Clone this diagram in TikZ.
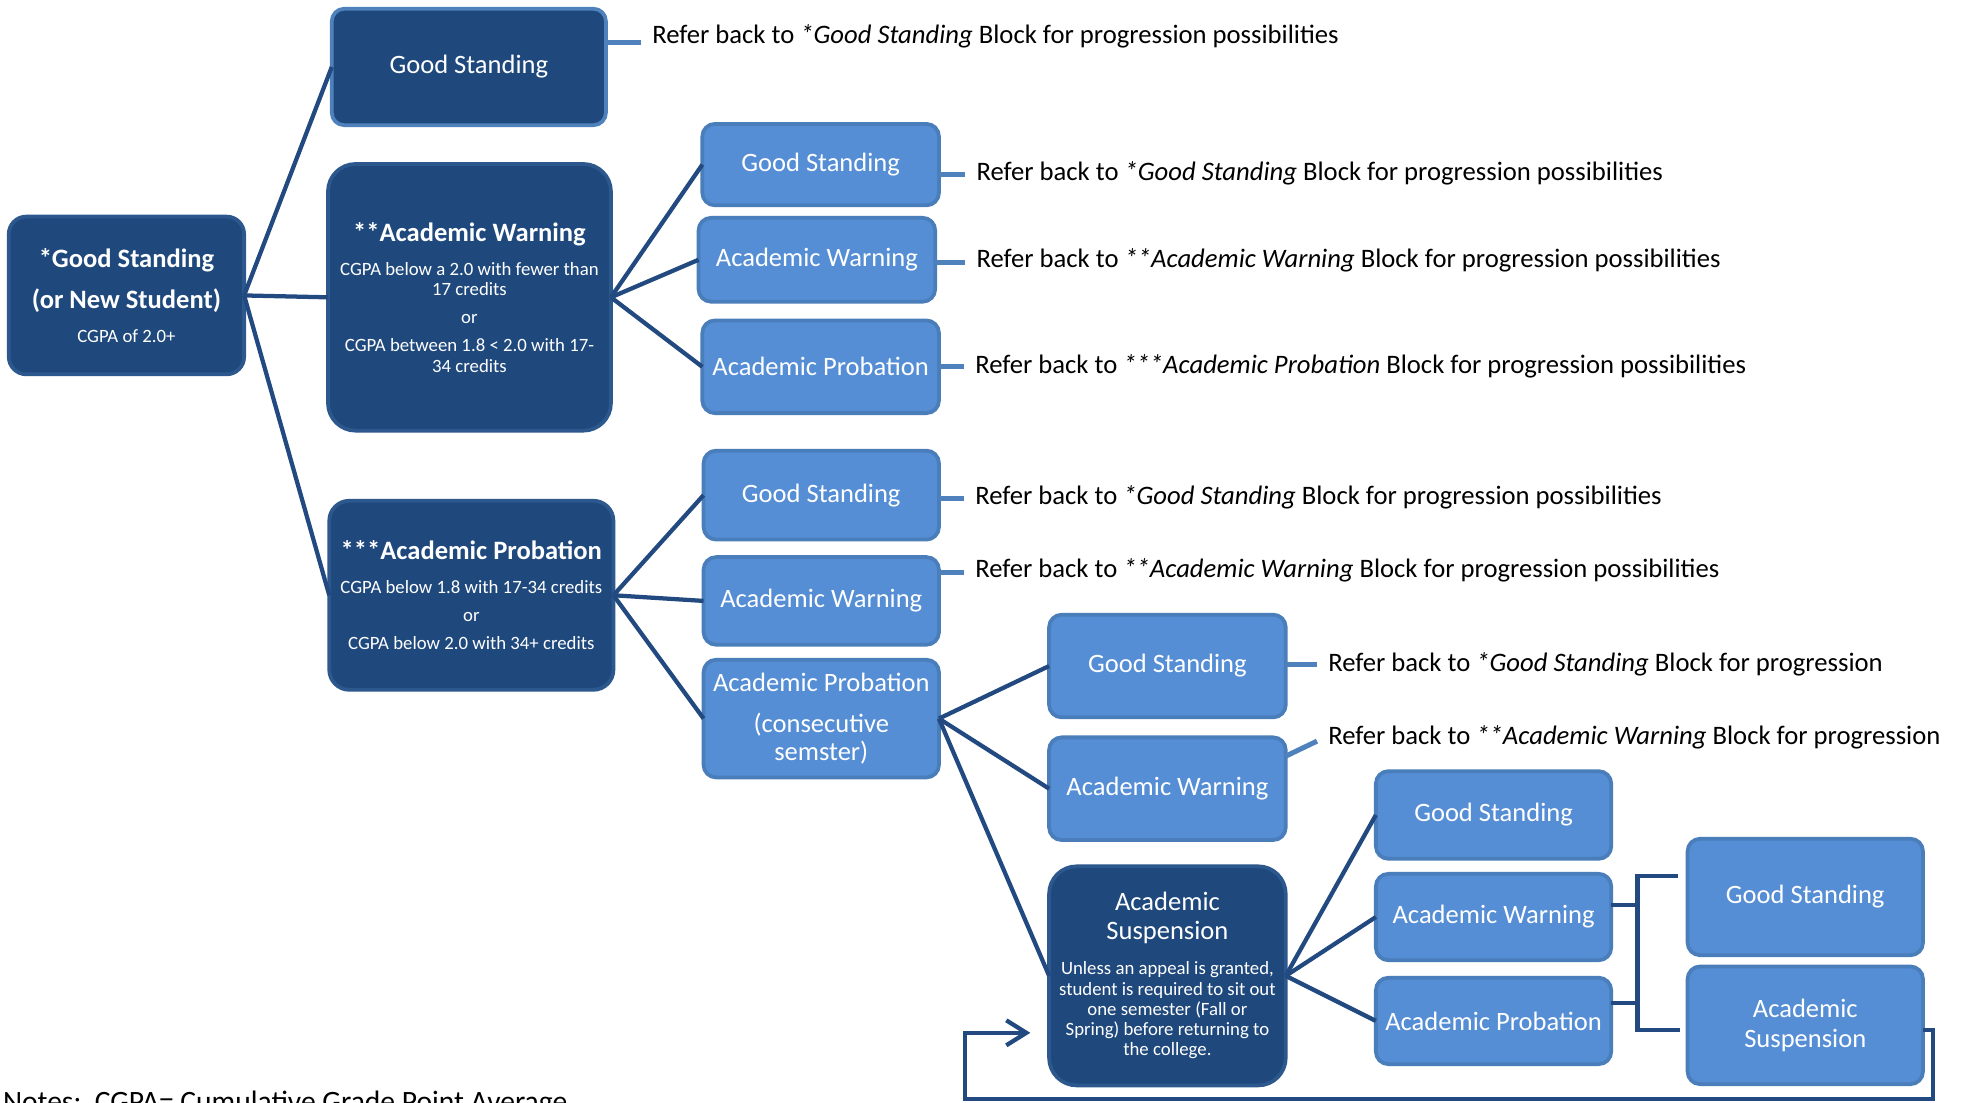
\documentclass[tikz,border=0pt]{standalone}
\usepackage{fontspec}
\setmainfont{Carlito}
\usetikzlibrary{arrows.meta}
\definecolor{dkfill}{RGB}{31,73,125}
\definecolor{dkedge}{RGB}{44,88,142}
\definecolor{ltfill}{RGB}{85,142,213}
\definecolor{ltedge}{RGB}{74,126,187}
\definecolor{conncol}{RGB}{35,74,128}
\definecolor{labcol}{RGB}{79,129,189}
\newcommand{\sm}{\fontsize{7.5}{9}\selectfont}
\tikzset{
  box/.style 2 args={minimum width=#1*0.5pt, minimum height=#2*0.5pt, inner sep=1pt, outer sep=0pt,
    align=center, text=white, font=\fontsize{10.6}{12}\selectfont, line width=1.5pt},
  dk/.style={fill=dkfill, draw=dkedge},
  lt/.style={fill=ltfill, draw=ltedge, rounded corners=5pt},
  conn/.style={draw=conncol, line width=1.7pt},
  lab/.style={draw=labcol, line width=2pt},
  labtext/.style={anchor=base west, inner ysep=0pt, inner xsep=4.5pt, outer sep=0pt,
    font=\fontsize{10.65}{13}\selectfont, text=black},
}
\begin{document}
\begin{tikzpicture}[x=0.5pt,y=-0.5pt]
\useasboundingbox (0,0) rectangle (1568,881);
\fill[white] (0,0) rectangle (1568,881);
\clip (0,0) rectangle (1568,881);

% level 0
\node[box={188}{126}, dk, rounded corners=7pt] (R) at (101,236)
  {\textbf{*Good Standing}\\[4.5pt]\textbf{(or New Student)}\\[1.5pt]{\sm CGPA of 2.0+}};

% level 1
\node[box={219}{93}, fill=dkfill, draw=labcol, rounded corners=5pt] (G1) at (374.5,53.5) {Good Standing};
\node[box={226}{213}, dk, rounded corners=11pt] (W) at (375,237.5)
  {\textbf{**Academic Warning}\\[1.5pt]{\sm CGPA below a 2.0 with fewer than}\\[-3.8pt]{\sm 17 credits}\\[-0.8pt]{\sm or}\\[-0.8pt]{\sm CGPA between 1.8 < 2.0 with 17-}\\[-3.8pt]{\sm 34 credits}};
\node[box={227}{151}, dk, rounded corners=8pt] (P) at (376.5,475.5)
  {\textbf{***Academic Probation}\\[1.5pt]{\sm CGPA below 1.8 with 17-34 credits}\\[-0.8pt]{\sm or}\\[-0.8pt]{\sm CGPA below 2.0 with 34+ credits}};

% level 2
\node[box={189}{65}, lt] (W1) at (655.5,131.5) {Good Standing};
\node[box={189}{67}, lt] (W2) at (652.5,207.5) {Academic Warning};
\node[box={189}{74}, lt] (W3) at (655.5,293) {Academic Probation};
\node[box={188}{71}, lt] (P1) at (656,395.5) {Good Standing};
\node[box={188}{70}, lt] (P2) at (656,480) {Academic Warning};
\node[box={188}{94}, lt] (P3) at (656,574) {Academic Probation\\[4.5pt](consecutive\\[-1pt]semster)};

% level 3
\node[box={189}{82}, lt] (Q1) at (932.5,532) {Good Standing};
\node[box={189}{82}, lt] (Q2) at (932.5,630) {Academic Warning};
\node[box={189}{175}, dk, rounded corners=11pt] (Q3) at (932.5,779.5)
  {Academic\\[-0.5pt]Suspension\\[2pt]{\sm Unless an appeal is granted,}\\[-3.9pt]{\sm student is required to sit out}\\[-3.9pt]{\sm one semester (Fall or}\\[-3.9pt]{\sm Spring) before returning to}\\[-3.9pt]{\sm the college.}};

% level 4
\node[box={188}{70}, lt] (S1) at (1193,651) {Good Standing};
\node[box={188}{69}, lt] (S2) at (1193,732.5) {Academic Warning};
\node[box={188}{69}, lt] (S3) at (1193,815.5) {Academic Probation};

% level 5
\node[box={188}{93}, lt] (T1) at (1442,716.5) {Good Standing};
\node[box={188}{94}, lt] (T2) at (1442,819) {Academic\\Suspension};

% connectors
\draw[conn] (R.east) -- (G1.west);
\draw[conn] (R.east) -- (W.west);
\draw[conn] (R.east) -- (P.west);
\draw[conn] (W.east) -- (W1.west);
\draw[conn] (W.east) -- (W2.west);
\draw[conn] (W.east) -- (W3.west);
\draw[conn] (P.east) -- (P1.west);
\draw[conn] (P.east) -- (P2.west);
\draw[conn] (P.east) -- (P3.west);
\draw[conn] (P3.east) -- (Q1.west);
\draw[conn] (P3.east) -- (Q2.west);
\draw[conn] (P3.east) -- (Q3.west);
\draw[conn] (Q3.east) -- (S1.west);
\draw[conn] (Q3.east) -- (S2.west);
\draw[conn] (Q3.east) -- (S3.west);

% bracket
\coordinate (bk) at (1308,0);
\draw[conn] (S2.east |- 0,723) -- (bk |- 0,723);
\draw[conn] (S3.east |- 0,801) -- (bk |- 0,801);
\draw[conn] ([xshift=-4pt]T1.west |- 0,700) -| (bk |- 0,823) -- ([xshift=-3pt]T2.west |- 0,823);

% return arrow
\coordinate (r1) at (1544,878);
\coordinate (r2) at (771,878);
\coordinate (atip) at (823,825);
\draw[conn, -{Straight Barb[length=8pt,width=10pt]}] (T2.east |- 0,823) -| (r1) -- (r2) |- (atip);

% reference labels
\node[labtext] (LG1) at (512,35) {Refer back to \textit{*Good Standing} Block for progression possibilities};
\node[labtext] (LW1) at (771,144) {Refer back to \textit{*Good Standing} Block for progression possibilities};
\node[labtext] (LW2) at (771,214) {Refer back to \textit{**Academic Warning} Block for progression possibilities};
\node[labtext] (LW3) at (770,298) {Refer back to \textit{***Academic Probation} Block for progression possibilities};
\node[labtext] (LP1) at (770,403) {Refer back to \textit{*Good Standing} Block for progression possibilities};
\node[labtext] (LP2) at (770,461) {Refer back to \textit{**Academic Warning} Block for progression possibilities};
\node[labtext] (LQ1) at (1052,536) {Refer back to \textit{*Good Standing} Block for progression};
\node[labtext] (LQ2) at (1052,595) {Refer back to \textit{**Academic Warning} Block for progression};

\draw[lab] (G1.east |- 0,34) -- (LG1.base west |- 0,34);
\draw[lab] (W1.east |- 0,139) -- (LW1.base west |- 0,139);
\draw[lab] (W2.east |- 0,210) -- (LW2.base west |- 0,210);
\draw[lab] (W3.east |- 0,293) -- (LW3.base west |- 0,293);
\draw[lab] (P1.east |- 0,398) -- (LP1.base west |- 0,398);
\draw[lab] (P2.east |- 0,457) -- (LP2.base west |- 0,457);
\draw[lab] (Q1.east |- 0,531) -- (LQ1.base west |- 0,531);
\draw[lab] (Q2.east |- 0,604) -- (LQ2.base west |- 0,592);

% notes
\node[anchor=base west, inner sep=0pt, font=\fontsize{11.8}{14}\selectfont] (notes) at (2,888)
  {Notes:\ \ CGPA= Cumulative Grade Point Average};
\end{tikzpicture}
\end{document}
